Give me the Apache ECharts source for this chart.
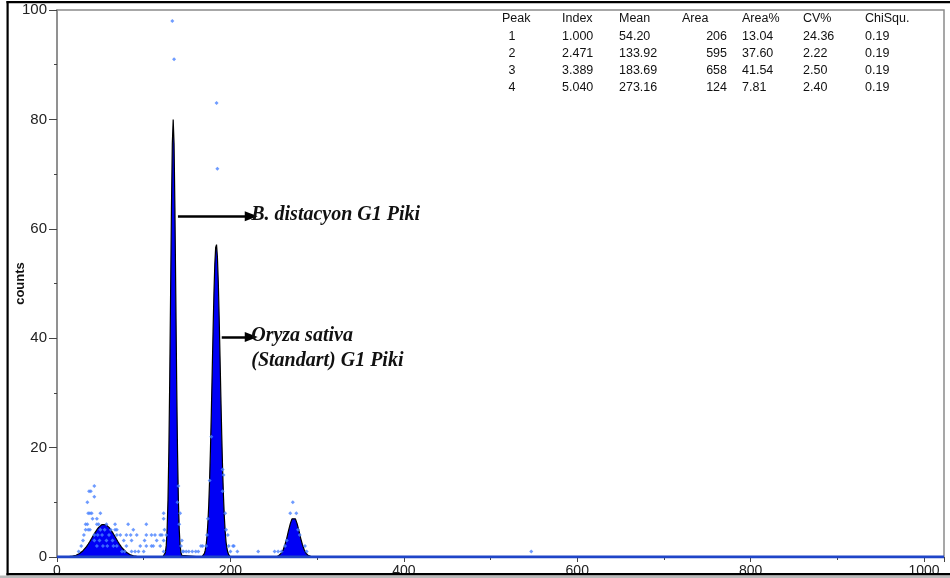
<!DOCTYPE html>
<html><head><meta charset="utf-8">
<script src="https://cdn.jsdelivr.net/npm/echarts@6/dist/echarts.min.js"></script>
<style>html,body{margin:0;padding:0;background:#fff}#c{width:950px;height:578px}</style>
</head><body><div id="c"></div>
<script>
// ---- Data ----
const xRange = [0, 1023];
const yRange = [0, 100];

// fitted / histogram curve (channel, counts)
const histChannels = [0,
 14,16,18,20,22,24,26,28,30,32,34,36,38,40,42,44,46,48,50,52,54,56,58,60,62,64,66,68,70,72,74,76,78,80,82,84,86,88,90,92,94,96,
 122,123,124,125,126,127,128,129,130,131,132,133,134,135,136,137,138,139,140,141,142,143,144,145,146,
 167,168,169,170,171,172,173,174,175,176,177,178,179,180,181,182,183,184,185,186,187,188,189,190,191,192,193,194,195,196,197,198,199,200,
 252,253,255,257,259,261,263,265,267,269,271,273,275,277,279,281,283,285,287,289,291,293,295,
 1023];
const histCounts = [0,
 0.06,0.10,0.15,0.22,0.32,0.45,0.63,0.86,1.15,1.50,1.90,2.37,2.88,3.42,3.97,4.50,4.99,5.41,5.73,5.93,6.00,5.93,5.73,5.41,4.99,4.50,3.97,3.42,2.88,2.37,1.90,1.50,1.15,0.86,0.63,0.45,0.32,0.22,0.15,0.10,0.06,0,
 0,0.1,0.28,0.81,2.12,4.96,10.4,19.4,32.3,48.0,63.7,75.6,80.0,75.6,63.7,48.0,32.3,19.4,10.4,4.96,2.12,0.81,0.28,0.1,0,
 0,0.15,0.33,0.67,1.25,2.2,3.8,6.2,9.5,14.1,19.8,26.5,33.9,41.4,48.2,53.5,56.6,57.1,54.9,50.4,44.1,36.8,29.3,22.3,16.1,11.1,7.3,4.6,2.7,1.56,0.86,0.44,0.21,0,
 0,0.07,0.17,0.37,0.75,1.37,2.28,3.46,4.81,6.06,6.97,7.30,6.97,6.06,4.81,3.46,2.28,1.37,0.75,0.37,0.17,0.07,0,
 0];

// raw data points (channel, counts)
const rawChannels = [43,37,39,43,35,36,38,40,50,41,46,33,35,46,48,57,67,82,103,33,36,38,50,55,62,67,69,88,31,43,47,52,60,69,73,80,85,92,103,109,113,119,43,49,57,64,77,86,101,115,123,46,53,58,65,69,80,96,103,109,111,119,86,90,94,100,123,28,25,30,75,78,
 123,123,124,126,121,140,139,142,141,144,143,145,146,149,152,156,160,163,166,168,133,135,
 173,174,176,172,184,185,191,192,191,194,195,197,198,200,204,208,178,203,
 272,269,276,232,251,255,259,263,280,286,288,265,278,
 547];
const rawCounts = [13,12,12,11,10,8,8,8,8,7,7,6,6,6,6,6,6,6,6,5,5,5,5,5,5,5,5,5,4,4,4,4,4,4,4,4,4,4,4,4,4,4,3,3,3,3,3,3,3,3,3,2,2,2,2,2,2,2,2,2,2,2,1,1,1,1,1,2,1,3,1,1,
 8,7,5,4,4,13,10,8,6,3,2,1,1,1,1,1,1,1,2,2,98,91,
 4,7,14,2,83,71,16,15,12,8,5,4,2,1,2,1,22,2,
 10,8,8,1,1,1,1,2,4,2,1,3,5,
 1];

// peak table
const tableHeader = ['Peak','Index','Mean','Area','Area%','CV%','ChiSqu.'];
const peakNo = ['1','2','3','4'];
const peakIndex = ['1.000','2.471','3.389','5.040'];
const peakMean = ['54.20','133.92','183.69','273.16'];
const peakArea = ['206','595','658','124'];
const peakAreaPct = ['13.04','37.60','41.54','7.81'];
const peakCV = ['24.36','2.22','2.50','2.40'];
const peakChi = ['0.19','0.19','0.19','0.19'];

// annotations: [startChannel, endChannel, counts, text]
const annotations = [
  [139.5, 224, 62.3, 'B. distacyon G1 Piki'],
  [190, 224, 40.2, 'Oryza sativa\n(Standart) G1 Piki']
];

// ---- Chart ----
const chart = echarts.init(document.getElementById('c'), null, {renderer: 'canvas'});

const histData = histChannels.map((c, i) => [c, histCounts[i]]);
const rawData = rawChannels.map((c, i) => [c, rawCounts[i]]);
const baseData = xRange.map(c => [c, 0]);

const markData = annotations.map(a => [
  {coord: [a[0], a[2]], symbol: 'none'},
  {coord: [a[1], a[2]], label: {formatter: a[3], offset: a[3].indexOf('\n') >= 0 ? [0, 11] : [0, -1]}}
]);

// table graphics
const tableX = [502, 562, 619, 682, 742, 803, 865];
const rowY0 = 19, rowH = 17.2;
const cols = [peakNo, peakIndex, peakMean, peakArea, peakAreaPct, peakCV, peakChi];
const tFont = '12.5px "Liberation Sans", Arial, sans-serif';
const graphics = [];
tableHeader.forEach((h, j) => {
  graphics.push({type: 'text', x: tableX[j], y: rowY0, z: 50,
    style: {text: h, font: tFont, fill: '#111', textAlign: 'left', textVerticalAlign: 'middle'}});
});
cols.forEach((col, j) => {
  col.forEach((v, i) => {
    let x = tableX[j], align = 'left';
    if (j === 0) { x = 512; align = 'center'; }
    if (j === 3) { x = 727; align = 'right'; }
    graphics.push({type: 'text', x: x, y: rowY0 + rowH * (i + 1), z: 50,
      style: {text: v, font: tFont, fill: '#111', textAlign: align, textVerticalAlign: 'middle'}});
  });
});
// outer frame
graphics.push({type: 'rect', shape: {x: 0, y: 573, width: 950, height: 5}, style: {fill: '#fff'}, z: 100, silent: true});
graphics.push({type: 'rect', shape: {x: 6.5, y: 573, width: 943.5, height: 2.6}, style: {fill: '#000'}, z: 101, silent: true});
graphics.push({type: 'rect', shape: {x: 6.5, y: 1, width: 943.5, height: 2.2}, style: {fill: '#000'}, z: 101, silent: true});
graphics.push({type: 'rect', shape: {x: 6.5, y: 1, width: 2.2, height: 574.6}, style: {fill: '#000'}, z: 101, silent: true});
graphics.push({type: 'rect', shape: {x: 0, y: 575.6, width: 950, height: 2.4}, style: {fill: '#bbb'}, z: 101, silent: true});

const option = {
  animation: false,
  backgroundColor: '#fff',
  grid: {left: 57, right: 6, top: 10, bottom: 21, show: true, borderColor: '#8a8a8a', borderWidth: 1.5,
    containLabel: false, outerBoundsMode: 'none'},
  xAxis: {
    type: 'value', min: xRange[0], max: xRange[1], interval: 200,
    axisLine: {show: true, lineStyle: {color: '#8a8a8a', width: 1}},
    axisTick: {show: true, length: 5, lineStyle: {color: '#444'}},
    minorTick: {show: true, splitNumber: 2, length: 3, lineStyle: {color: '#444'}},
    splitLine: {show: false},
    axisLabel: {margin: 7, fontSize: 14, color: '#222', fontFamily: '"Liberation Sans", Arial, sans-serif',
      formatter: v => (v % 200 === 0 ? String(v) : '')}
  },
  yAxis: {
    type: 'value', min: yRange[0], max: yRange[1], interval: 20,
    name: 'counts', nameLocation: 'middle', nameGap: 30, nameMoveOverlap: false,
    nameTextStyle: {fontSize: 13, fontWeight: 'bold', color: '#111', fontFamily: '"Liberation Sans", Arial, sans-serif'},
    axisLine: {show: true, lineStyle: {color: '#8a8a8a', width: 1.5}},
    axisTick: {show: true, length: 8, lineStyle: {color: '#444'}},
    minorTick: {show: true, splitNumber: 2, length: 3, lineStyle: {color: '#444'}},
    splitLine: {show: false},
    axisLabel: {margin: 10, fontSize: 15, color: '#222', fontFamily: '"Liberation Sans", Arial, sans-serif'}
  },
  series: [
    {
      name: 'histogram', type: 'line', data: histData, symbol: 'none', z: 2,
      lineStyle: {color: '#000', width: 1.2},
      areaStyle: {color: '#0000f5', opacity: 1},
      markLine: {
        silent: true, animation: false,
        symbol: ['none', 'triangle'], symbolSize: [10, 13],
        lineStyle: {color: '#000', width: 2.5, type: 'solid'},
        label: {show: true, position: 'end', distance: 0, color: '#111',
          fontFamily: '"Liberation Serif", "Times New Roman", serif', fontStyle: 'italic', fontWeight: 'bold', fontSize: 20, lineHeight: 25,
          align: 'left'},
        data: markData
      }
    },
    {
      name: 'raw', type: 'scatter', data: rawData, symbol: 'diamond', symbolSize: 4, z: 3,
      itemStyle: {color: '#4a82ff'}
    },
    {
      name: 'baseline', type: 'line', data: baseData, symbol: 'none', z: 4,
      lineStyle: {color: '#1f45c8', width: 3}
    }
  ],
  graphic: graphics
};
chart.setOption(option);
</script>
</body></html>
